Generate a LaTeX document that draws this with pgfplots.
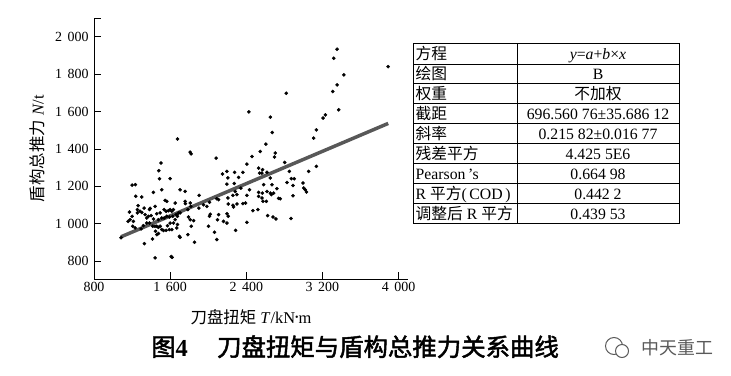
\documentclass[border=0pt]{standalone}
\usepackage{fontspec}
\setmainfont{Liberation Serif}
\newfontfamily\cjk[AutoFakeBold=2]{Noto Sans CJK SC}
\usepackage{pgfplots}
\pgfplotsset{compat=1.18}
\definecolor{regline}{RGB}{88,88,88}
\definecolor{wm}{RGB}{90,90,90}
\begin{document}
\begin{tikzpicture}[x=1bp,y=1bp]
\path[use as bounding box] (0,0) rectangle (731,375);
\begin{axis}[
  at={(94bp,96bp)}, anchor=south west,
  scale only axis, width=314bp, height=261bp,
  xmin=800, xmax=4100, ymin=705, ymax=2100,
  axis x line*=bottom, axis y line*=left,
  axis line style={line width=0.8bp, black},
  tick align=inside, major tick length=7bp,
  tick style={line width=0.8bp, black},
  xtick={800,1600,2400,3200,4000},
  xticklabels={800,1\hspace{0.4em}600,2\hspace{0.4em}400,3\hspace{0.4em}200,4\hspace{0.4em}000},
  ytick={800,1000,1200,1400,1600,1800,2000},
  yticklabels={800,1\hspace{0.4em}000,1\hspace{0.4em}200,1\hspace{0.4em}400,1\hspace{0.4em}600,1\hspace{0.4em}800,2\hspace{0.4em}000},
  extra y ticks={2100}, extra y tick labels={},
  ticklabel style={font=\fontsize{14}{16}\selectfont},
  yticklabel style={xshift=-2bp},
  xlabel={{\cjk 刀盘扭矩} \textit{T}/kN\raisebox{0.15em}{\scalebox{0.6}{•}}m},
  ylabel={{\cjk 盾构总推力} \textit{N}/t},
  label style={font=\fontsize{16.5}{18}\selectfont},
  xlabel style={at={(axis description cs:0.5,-0.145)}, anchor=center},
  ylabel style={at={(axis description cs:-0.18,0.5)}, anchor=center},
  clip=false,
]
\addplot[only marks, mark=*, mark size=1.6bp, black] coordinates {
(3355,1933) (3319,1885) (3425,1796) (3891,1840) (3355,1742) (3309,1707) (3372,1609) (3232,1582)
(3207,1565) (3137,1502) (3109,1458) (3137,1307) (3056,1280) (2821,1698) (2428,1598) (2653,1570)
(2674,1488) (2607,1426) (2547,1387) (2460,1360) (2705,1378) (2698,1357) (2407,1319) (2804,1328)
(2853,1280) (2874,1241) (2905,1241) (2828,1221) (2891,1205) (2997,1218) (3004,1191) (3021,1182)
(3032,1170) (2891,1150) (2870,1028) (2740,1136) (2758,1134) (2723,1188) (2712,1026) (2681,1036)
(2625,1044) (2663,1156) (2653,1164) (2688,1164) (2618,1173) (2670,1209) (2653,1245) (2618,1275)
(2565,1271) (2530,1298) (2540,1271) (2572,1289)
(2084,1351) (2151,1266) (2197,1280) (2277,1275) (2207,1245) (2365,1275) (2319,1248) (2274,1216)
(2197,1212) (2344,1191) (2435,1182) (2284,1173) (2302,1156) (2260,1152) (2407,1152) (2207,1138)
(2091,1134) (2109,1129) (2014,1115) (2211,1106) (2302,1106) (2260,1099) (2267,1090) (2365,1108)
(2393,1111) (2197,1054) (2211,1040) (2109,1049) (2098,1022) (2161,1013) (2197,1004) (2407,1008)
(2288,965) (2067,955) (2091,916) (2530,1168) (2530,1147) (2565,1138) (2576,1120) (2611,1120)
(2470,1070) (2523,1076) (2569,1164) (2583,1209)
(1811,1383) (1821,1374) (1905,1152) (1902,1084) (1951,1102) (1986,1093) (2021,1051) (2014,1040)
(2004,987) (1856,901) (1811,1111) (1818,1093) (1793,1036) (1811,1022) (1786,1076) (1758,1173)
(1705,1182) (1758,1120) (1761,1108) (1705,1058) (1698,933) (1705,928) (1786,942) (1821,987)
(1846,1017) (1677,1453)
(1505,1325) (1481,1284) (1488,1241) (1600,1241) (1512,1182) (1547,1125) (1565,1120) (1425,1168)
(1390,1083) (1442,1093) (1537,1076) (1558,1067) (1582,1070) (1600,1076) (1618,1067) (1635,1076)
(1653,1111) (1663,1049) (1677,1040) (1628,1040) (1593,1036) (1565,1040) (1537,1031) (1512,1031)
(1477,1022) (1425,1026) (1400,1044) (1372,1040) (1383,1004) (1442,987) (1460,987) (1477,981)
(1495,987) (1512,969) (1530,964) (1558,965) (1593,969) (1670,978) (1677,996) (1635,1004)
(1446,960) (1414,919) (1460,942) (1477,948) (1330,894) (1442,818) (1611,825) (1621,821)
(1600,1004) (1572,990) (1618,969) (1653,1022) (1688,1058) (1460,1054) (1495,1058)
(1200,1207) (1235,1209) (1239,1147) (1302,1143) (1263,1097) (1256,1076) (1172,1063) (1200,1040)
(1179,1022) (1214,1013) (1284,1067) (1302,1061) (1256,1058) (1337,1049) (1354,1031) (1383,1076)
(1326,1084) (1158,1013) (1207,987) (1232,978) (1319,990) (1354,1004) (1084,926) (1295,973)
(1418,987)
};
\addplot[line width=3.5bp, regline] coordinates {(1084,930.5) (3892,1536.5)};
\end{axis}
% table
\begin{scope}[line width=0.8bp]
\draw (413,332) rectangle (679,152);
\draw (517,332) -- (517,152);
\foreach \yy in {311,291.5,271.5,251.5,231.5,211.5,191.5,171.5} \draw (413,\yy) -- (679,\yy);
\end{scope}
\tikzset{tl/.style={inner sep=0, anchor=base west, font=\fontsize{15.8}{17}\selectfont},
         tr/.style={inner sep=0, anchor=base, font=\fontsize{15.8}{17}\selectfont}}
\node[tl] at (415.5,315.5) {\cjk 方程};
\node[tr] at (598,315.5) {\textit{y}=\textit{a}+\textit{b}×\textit{x}};
\node[tl] at (415.5,295.3) {\cjk 绘图};
\node[tr] at (598,295.3) {B};
\node[tl] at (415.5,275.5) {\cjk 权重};
\node[tr] at (598,275.5) {\cjk 不加权};
\node[tl] at (415.5,255.5) {\cjk 截距};
\node[tr] at (598,255.5) {696.560 76±35.686 12};
\node[tl] at (415.5,235.5) {\cjk 斜率};
\node[tr] at (598,235.5) {0.215 82±0.016 77};
\node[tl] at (415.5,215.5) {\cjk 残差平方};
\node[tr] at (598,215.5) {4.425 5E6};
\node[tl] at (415.5,195.5) {Pearson\,’s};
\node[tr] at (598,195.5) {0.664 98};
\node[tl] at (415.5,175.5) {R {\cjk 平方}(\,COD\,)};
\node[tr] at (598,175.5) {0.442 2};
\node[tl] at (415.5,155.8) {{\cjk 调整后} R {\cjk 平方}};
\node[tr] at (598,155.8) {0.439 53};
% caption
\node[inner sep=0, anchor=base west, font=\fontsize{24.5}{26}\selectfont] at (151,19)
  {{\cjk\bfseries 图}\textbf{4}\hspace{1.2em}{\cjk\bfseries 刀盘扭矩与盾构总推力关系曲线}};
% watermark
\begin{scope}[wm, line width=1bp]
\draw (614,29) circle (8.5);
\draw[fill=white] (622,24) circle (6.5);
\end{scope}
\node[inner sep=0, anchor=base west, text=wm, font=\fontsize{18}{20}\selectfont] at (641,21) {\cjk 中天重工};
\end{tikzpicture}
\end{document}
